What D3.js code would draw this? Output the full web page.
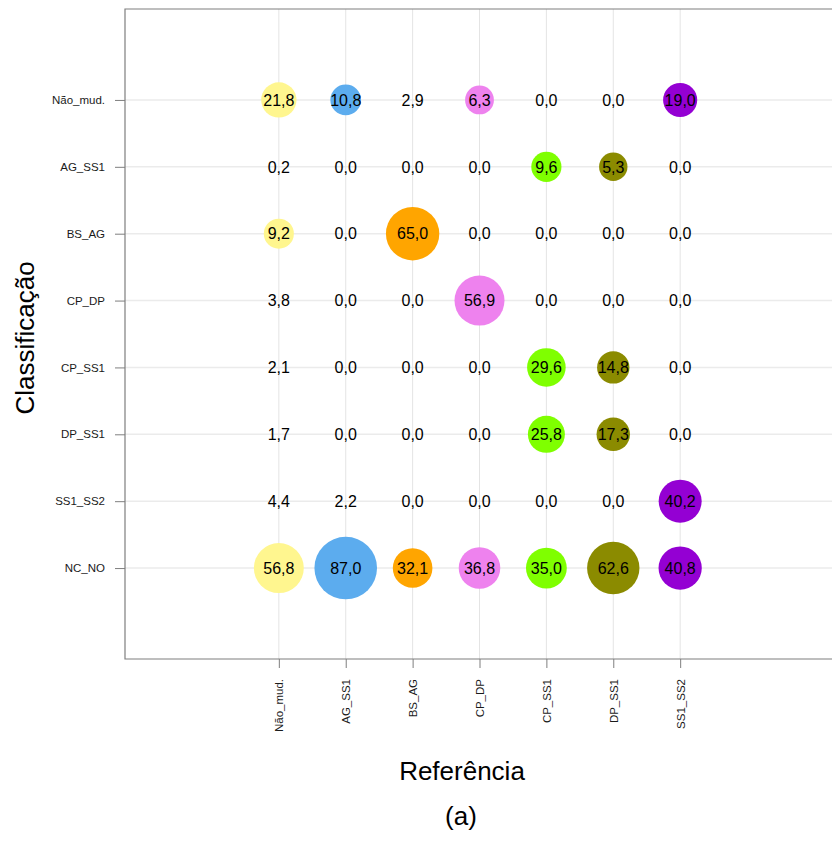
<!DOCTYPE html>
<html>
<head>
<meta charset="utf-8">
<script src="https://cdn.jsdelivr.net/npm/d3@7"></script>
<style>
  html, body { margin: 0; padding: 0; background: #fff; }
  svg { display: block; font-family: "Liberation Sans", Arial, sans-serif; }
</style>
</head>
<body>
<svg id="chart" width="832" height="842"></svg>
<script>
// Reference classes (columns) and classification classes (rows)
const referencia = ["Não_mud.", "AG_SS1", "BS_AG", "CP_DP", "CP_SS1", "DP_SS1", "SS1_SS2"];
const classificacao = ["Não_mud.", "AG_SS1", "BS_AG", "CP_DP", "CP_SS1", "DP_SS1", "SS1_SS2", "NC_NO"];

// Percentages per classification row, one value per reference column
const rowNaoMud = [21.8, 10.8, 2.9, 6.3, 0.0, 0.0, 19.0];
const rowAG_SS1 = [0.2, 0.0, 0.0, 0.0, 9.6, 5.3, 0.0];
const rowBS_AG  = [9.2, 0.0, 65.0, 0.0, 0.0, 0.0, 0.0];
const rowCP_DP  = [3.8, 0.0, 0.0, 56.9, 0.0, 0.0, 0.0];
const rowCP_SS1 = [2.1, 0.0, 0.0, 0.0, 29.6, 14.8, 0.0];
const rowDP_SS1 = [1.7, 0.0, 0.0, 0.0, 25.8, 17.3, 0.0];
const rowSS1_SS2 = [4.4, 2.2, 0.0, 0.0, 0.0, 0.0, 40.2];
const rowNC_NO  = [56.8, 87.0, 32.1, 36.8, 35.0, 62.6, 40.8];

// Fill colour for each reference class
const coresReferencia = ["#FFF68F", "#5CACEE", "#FFA500", "#EE82EE", "#7FFF00", "#8B8B00", "#9400D3"];

// Bubbles are only drawn from this value upward
const limiarBolha = 5;

const rows = [rowNaoMud, rowAG_SS1, rowBS_AG, rowCP_DP, rowCP_SS1, rowDP_SS1, rowSS1_SS2, rowNC_NO];
const cells = [];
rows.forEach((vals, i) => vals.forEach((v, j) => {
  cells.push({ linha: classificacao[i], coluna: referencia[j], valor: v, cor: coresReferencia[j] });
}));

const svg = d3.select("#chart");
const panel = { left: 125, right: 834, top: 9, bottom: 659 };

const x = d3.scalePoint().domain(referencia).range([panel.left, panel.right]).padding(2.3);
const y = d3.scalePoint().domain(classificacao).range([panel.top, panel.bottom]).padding(1.36);

const plotted = cells.filter(d => d.valor >= limiarBolha);
const r = d3.scaleLinear().domain(d3.extent(plotted, d => d.valor)).range([14.2, 31.3]);

// grid lines
svg.append("g").selectAll("line").data(classificacao).join("line")
  .attr("x1", panel.left).attr("x2", panel.right)
  .attr("y1", d => y(d)).attr("y2", d => y(d))
  .attr("stroke", "#ebebeb").attr("stroke-width", 1.5);
svg.append("g").selectAll("line").data(referencia).join("line")
  .attr("x1", d => x(d)).attr("x2", d => x(d))
  .attr("y1", panel.top).attr("y2", panel.bottom)
  .attr("stroke", "#e4e4e4").attr("stroke-width", 1);

// axes
const axisColor = "#7f7f7f";
const gx = svg.append("g").attr("transform", `translate(0,${panel.bottom})`)
  .call(d3.axisBottom(x).tickSizeOuter(0).tickSize(9).tickPadding(12));
gx.select(".domain").remove();
gx.selectAll(".tick line").attr("stroke", axisColor);
gx.selectAll(".tick text")
  .attr("transform", "rotate(-90)")
  .attr("x", -20).attr("y", 0).attr("dy", "0.35em")
  .attr("text-anchor", "end")
  .attr("font-size", 11.5).attr("fill", "#1a1a1a")
  .attr("font-family", "Liberation Sans, Arial, sans-serif");

const gy = svg.append("g").attr("transform", `translate(${panel.left},0)`)
  .call(d3.axisLeft(y).tickSizeOuter(0).tickSize(10).tickPadding(10));
gy.select(".domain").remove();
gy.selectAll(".tick line").attr("stroke", axisColor);
gy.selectAll(".tick text")
  .attr("font-size", 11.5).attr("fill", "#1a1a1a")
  .attr("font-family", "Liberation Sans, Arial, sans-serif");

// panel border (left, bottom, top)
svg.append("path")
  .attr("d", `M${panel.right},${panel.top}H${panel.left}V${panel.bottom}H${panel.right}`)
  .attr("fill", "none").attr("stroke", axisColor).attr("stroke-width", 1.2);

// bubbles
svg.append("g").selectAll("circle").data(plotted).join("circle")
  .attr("cx", d => x(d.coluna)).attr("cy", d => y(d.linha))
  .attr("r", d => r(d.valor))
  .attr("fill", d => d.cor);

// value labels
const fmt = v => v.toFixed(1).replace(".", ",");
svg.append("g").selectAll("text").data(cells).join("text")
  .attr("x", d => x(d.coluna)).attr("y", d => y(d.linha))
  .attr("dy", "0.36em").attr("text-anchor", "middle")
  .attr("font-size", 16).attr("fill", "#000")
  .text(d => fmt(d.valor));

// titles
svg.append("text").attr("x", 462).attr("y", 780)
  .attr("text-anchor", "middle").attr("font-size", 26).attr("fill", "#000")
  .text("Referência");
svg.append("text")
  .attr("transform", `translate(34,338) rotate(-90)`)
  .attr("text-anchor", "middle").attr("font-size", 26).attr("fill", "#000")
  .text("Classificação");
svg.append("text").attr("x", 461).attr("y", 825)
  .attr("text-anchor", "middle").attr("font-size", 26).attr("fill", "#000")
  .text("(a)");
</script>
</body>
</html>
